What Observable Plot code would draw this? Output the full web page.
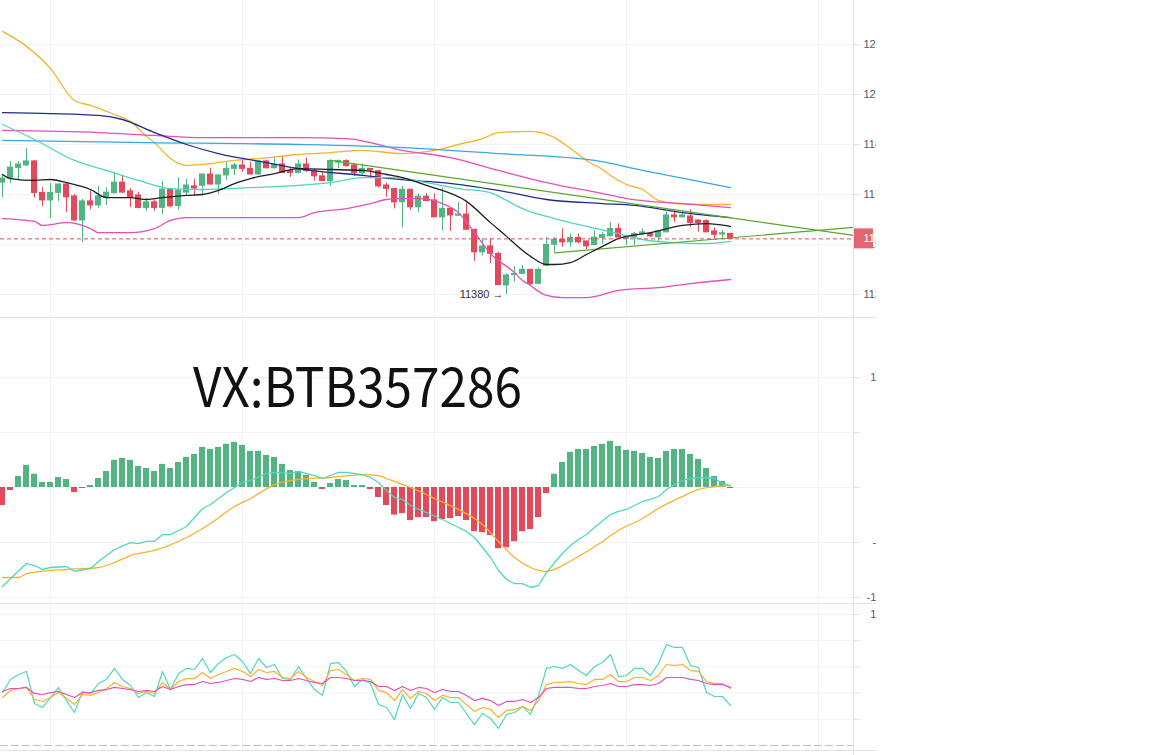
<!DOCTYPE html>
<html><head><meta charset="utf-8">
<script src="https://cdn.jsdelivr.net/npm/d3@7"></script>
<script src="https://cdn.jsdelivr.net/npm/@observablehq/plot@0.6"></script>
<style>
body{margin:0;background:#fff;}
#wrap{position:relative;width:1152px;height:755px;overflow:hidden;background:#fff;}
.panel{position:absolute;left:0;width:876px;overflow:hidden;}
.panel svg{overflow:hidden;display:block;}
.sep{position:absolute;left:0;width:876px;height:1px;background:#e0e3eb;}
#vline{position:absolute;left:853px;top:0;width:1px;height:755px;background:#e0e3eb;}
#wm{position:absolute;left:0;top:0;pointer-events:none;}
</style></head><body>
<div id="wrap">
  <div id="p1" class="panel" style="top:0;height:317px"></div>
  <div id="p2" class="panel" style="top:318px;height:285px"></div>
  <div id="p3" class="panel" style="top:604px;height:146px"></div>
  <div class="sep" style="top:317px"></div>
  <div class="sep" style="top:603px"></div>
  <div class="sep" style="top:750px"></div>
  <div id="vline"></div>
  <svg id="wm" width="1152" height="755"><text x="193" y="407" font-family="'Noto Sans CJK SC', 'Noto Sans', sans-serif" font-size="54" textLength="329" lengthAdjust="spacingAndGlyphs" fill="#111">VX:BTB357286</text></svg>
</div>
<script>
// ---------- data ----------
const candleOpen = [11738,11751,11785,11793,11806,11705,11681,11705,11732,11694,
11617,11678,11665,11691,11704,11738,11710,11697,11657,11675,
11657,11716,11663,11706,11726,11728,11764,11732,11761,11782,
11793,11782,11764,11806,11784,11796,11775,11769,11796,11775,
11758,11743,11802,11807,11793,11768,11782,11775,11729,11718,
11675,11715,11659,11693,11681,11627,11654,11632,11636,11587,
11515,11534,11510,11409,11442,11446,11459,11414,11472,11539,
11555,11547,11561,11550,11538,11561,11567,11590,11558,11563,
11574,11574,11563,11579,11633,11627,11630,11617,11615,11582,
11572,11574];
const candleClose = [11751,11786,11796,11806,11705,11681,11705,11732,11691,11617,
11678,11665,11694,11706,11738,11706,11689,11657,11675,11657,
11716,11662,11713,11729,11719,11764,11732,11761,11782,11793,
11782,11764,11806,11784,11796,11769,11769,11796,11775,11758,
11743,11807,11807,11791,11768,11782,11777,11726,11718,11675,
11715,11659,11693,11679,11627,11654,11633,11636,11587,11515,
11534,11510,11410,11441,11446,11459,11414,11459,11539,11555,
11547,11561,11547,11534,11562,11570,11590,11562,11563,11574,
11579,11566,11582,11633,11627,11633,11609,11609,11579,11571,
11576,11558];
const candleHigh = [11764,11806,11806,11847,11809,11722,11735,11734,11734,11700,
11684,11711,11726,11722,11771,11761,11719,11707,11687,11681,
11742,11719,11754,11749,11749,11765,11784,11762,11806,11800,
11815,11803,11807,11809,11819,11819,11783,11811,11817,11782,
11770,11811,11811,11811,11798,11798,11783,11776,11736,11719,
11726,11716,11702,11703,11702,11721,11655,11674,11672,11588,
11558,11558,11515,11446,11470,11473,11460,11465,11563,11563,
11590,11574,11574,11551,11583,11578,11611,11606,11569,11579,
11590,11578,11585,11643,11649,11647,11651,11618,11619,11593,
11585,11575];
const candleLow = [11690,11735,11745,11790,11689,11662,11623,11678,11642,11614,
11546,11651,11655,11665,11703,11703,11658,11654,11646,11646,
11636,11657,11649,11694,11694,11694,11730,11700,11745,11761,
11771,11763,11761,11782,11782,11768,11755,11766,11771,11743,
11742,11726,11783,11787,11758,11758,11751,11721,11691,11654,
11593,11649,11643,11678,11626,11583,11582,11631,11586,11486,
11503,11479,11409,11380,11419,11444,11407,11413,11471,11515,
11531,11531,11542,11524,11537,11540,11563,11561,11537,11537,
11569,11563,11547,11578,11611,11625,11595,11579,11577,11558,
11558,11557];

// main-panel indicator lines: [candle index, price]
const bollUpper = [[0,12222],[3,12174],[6,12103],[9,12001],[11,11985],[14,11956],[16,11934],[18,11886],[19,11866],[21,11815],[23,11793],[25,11796],[29,11809],[32,11815],[37,11828],[41,11834],[45,11841],[50,11831],[54,11841],[57,11860],[60,11879],[62,11898],[66,11902],[69,11882],[71,11847],[73,11809],[75,11780],[76,11761],[78,11732],[80,11716],[82,11681],[84,11671],[91,11668]];
const maPink = [[0,11905],[12,11898],[19,11889],[25,11882],[37,11882],[43,11879],[50,11841],[56,11818],[62,11777],[68,11738],[75,11703],[78,11687],[85,11671],[91,11658]];
const maBlue = [[0,11873],[18,11866],[37,11860],[50,11850],[62,11831],[74,11809],[80,11777],[91,11722]];
const maNavy = [[0,11962],[6,11959],[12,11953],[15,11940],[19,11898],[23,11860],[27,11831],[33,11802],[37,11783],[45,11761],[51,11745],[55,11738],[62,11713],[68,11684],[75,11671],[79,11665],[85,11642],[91,11626]];
const maTeal = [[0,11924],[4,11876],[9,11809],[13,11777],[17,11745],[21,11719],[25,11716],[31,11722],[37,11729],[41,11738],[45,11754],[49,11754],[53,11738],[57,11719],[61,11706],[63,11681],[65,11655],[69,11623],[73,11598],[77,11575],[80,11556],[84,11546],[88,11543],[91,11550]];
const maBlack = [[0,11764],[1,11751],[4,11745],[6,11748],[8,11738],[11,11716],[13,11690],[16,11690],[18,11684],[20,11690],[23,11697],[25,11700],[27,11713],[29,11735],[31,11751],[34,11767],[37,11783],[41,11780],[45,11777],[48,11764],[50,11754],[53,11729],[58,11678],[61,11610],[63,11566],[64,11543],[66,11502],[68,11476],[69,11476],[71,11482],[73,11508],[75,11534],[77,11559],[81,11578],[85,11601],[88,11607],[91,11598]];
const bollLower = [[0,11623],[4,11614],[5,11601],[8,11610],[11,11591],[12,11578],[16,11578],[19,11591],[21,11617],[23,11626],[29,11626],[37,11626],[39,11642],[43,11655],[46,11671],[48,11684],[49,11687],[52,11687],[55,11671],[57,11642],[59,11578],[61,11511],[64,11450],[65,11425],[66,11409],[67,11390],[68,11377],[70,11370],[73,11370],[77,11393],[82,11402],[86,11415],[91,11428]];
const trendUpper = [[41,11809],[106.375,11569]];
const trendLower = [[69,11513],[106.375,11595]];

// MACD
const macdHist = [-16.4,-2.7,10.0,20.1,12.1,4.6,4.6,9.1,7.3,-4.6,
-0.9,1.8,8.2,14.6,24.7,26.5,24.7,19.2,17.3,14.6,
21.0,17.3,22.8,27.4,30.1,36.5,34.7,36.5,39.3,41.1,
38.3,32.9,32.9,29.2,27.4,21.0,15.5,14.6,11.0,4.6,
-1.8,3.7,7.3,6.4,1.8,1.8,-1.8,-9.1,-16.4,-25.1,
-23.7,-30.1,-27.4,-27.4,-31.0,-29.2,-28.3,-26.5,-30.1,-40.2,
-41.1,-43.8,-55.7,-54.8,-49.3,-40.2,-38.3,-27.4,-5.5,12.1,
22.8,32.0,34.7,34.7,37.4,39.3,42.0,37.4,33.8,32.9,
31.0,27.4,26.5,32.9,34.7,34.7,30.1,25.6,17.3,10.0,
5.5,-0.9];
const macdDif = [[0,-90.1],[2,-76],[3,-69.2],[4,-71.0],[5,-74.6],[6,-72.8],[8,-71.9],[9,-76.4],[11,-73.7],[12,-67.3],[14,-56.4],[16,-50.1],[17,-51.0],[18,-49.1],[19,-49.1],[20,-42.8],[21,-42.8],[23,-35.5],[25,-19.1],[26,-15.5],[28,-4.6],[30,4.6],[31,6.4],[33,12.7],[34,13.7],[36,12.7],[37,14.6],[39,10.9],[40,8.2],[42,13.7],[43,13.7],[45,11.8],[46,9.1],[47,4.6],[48,-2.7],[49,-9.1],[50,-10.9],[51,-16.4],[53,-22.8],[55,-29.1],[57,-36.4],[58,-40.0],[59,-45.5],[60,-54.6],[61,-63.7],[62,-75.5],[63,-83.7],[64,-87.4],[65,-87.4],[66,-91.0],[67,-89.2],[68,-77.4],[69,-68.3],[70,-60.1],[71,-52.8],[72,-47.3],[73,-42.8],[74,-36.4],[76,-24.6],[77,-21.8],[78,-20.0],[79,-16.4],[80,-12.7],[81,-10.9],[82,-8.2],[83,-1.8],[84,2.7],[85,6.4],[86,8.2],[87,9.1],[88,9.1],[89,8.2],[90,3.6],[91,1.8]];
const macdDea = [[0,-81.9],[2,-81.9],[3,-78.3],[6,-75.5],[8,-74.6],[12,-72.8],[14,-68.3],[16,-61.9],[19,-57.3],[23,-45.5],[26,-32.8],[29,-17.3],[31,-10.0],[34,2.7],[37,7.3],[41,9.1],[45,11.8],[47,10.9],[48,8.2],[49,5.5],[51,0],[53,-6.4],[54,-10.0],[57,-20.0],[60,-33.7],[62,-49.1],[64,-63.7],[66,-72.8],[67,-75.5],[68,-76.4],[69,-74.6],[70,-71.0],[72,-62.8],[75,-49.1],[77,-39.1],[80,-28.2],[82,-19.1],[85,-8.2],[87,-1.8],[89,0.9],[91,1.8]];

// RSI
const rsi6 = [40.4,50.4,54.2,56.5,32.0,29.0,36.6,44.3,34.3,25.2,
41.2,39.7,47.3,50.4,58.8,50.4,45.8,36.6,40.4,37.4,
56.5,42.7,54.9,58.8,58.0,66.4,55.7,62.6,67.1,69.4,
64.1,54.9,66.4,59.5,61.8,51.1,50.4,60.3,51.1,42.7,
38.2,62.6,63.3,56.5,45.0,50.4,47.3,31.3,29.0,19.8,
38.9,28.2,39.7,36.6,27.5,36.6,32.8,32.8,24.4,16.0,
24.4,20.6,13.0,23.7,25.2,29.8,23.7,38.2,58.8,60.3,
58.8,61.8,57.2,53.4,60.3,63.3,69.4,52.6,53.4,58.8,
58.8,53.4,62.6,77.1,74.8,74.8,61.0,59.5,40.4,37.4,
37.4,30.5];
const rsi12 = [36.6,42.0,43.5,44.3,35.1,33.6,36.6,40.4,35.9,31.3,
38.9,38.2,40.4,43.5,48.1,45.0,43.5,39.7,41.2,39.7,
48.1,42.7,48.8,51.1,51.1,55.7,51.1,54.2,56.5,58.8,
56.5,52.6,58.0,55.7,56.5,51.9,51.1,56.5,51.9,48.8,
45.8,57.2,58.0,54.2,49.6,51.1,50.4,42.0,40.4,34.3,
42.7,35.9,41.2,39.7,34.3,38.2,36.6,36.6,31.3,25.9,
29.0,27.5,21.4,26.7,27.5,29.8,26.7,34.3,46.5,48.1,
48.1,48.8,47.3,46.5,50.4,50.4,54.2,48.8,48.8,51.9,
51.9,49.6,53.4,61.8,61.0,61.8,57.2,56.5,48.8,47.3,
47.3,43.5];
const rsi24 = [41.2,43.5,43.5,44.3,39.7,38.9,40.4,41.2,38.9,36.6,
40.4,40.4,42.0,42.7,44.3,43.5,42.7,41.2,42.0,41.2,
45.0,42.7,45.0,46.5,46.5,48.8,47.3,48.1,49.6,51.1,
50.4,48.8,51.9,50.4,51.1,49.6,49.6,51.1,49.6,48.1,
47.3,51.9,51.9,51.1,49.6,49.6,48.8,45.0,45.0,42.0,
45.0,42.0,44.3,43.5,40.4,42.7,41.2,41.2,38.2,34.3,
35.9,34.3,30.5,33.6,33.6,35.1,32.8,36.6,43.5,44.3,
44.3,44.3,43.5,43.5,45.0,45.8,47.3,45.0,45.0,46.5,
46.5,45.8,47.3,51.9,51.9,51.9,50.4,49.6,47.3,46.5,
46.5,44.3];

// axes
const priceTicks = [11380,11540,11700,11860,12020,12180];
const macdTicks = [100,50,0,-50,-100];
const rsiTicks = [100,80,60,40,20];
const gridIdx = [6,30,54,78,102];

// ---------- styles ----------
const UP = "#52b483", DOWN = "#e24a5b", BOX = "#e36473";
const GRID = "#f0f3f8", TICK = "#e0e3eb", LABEL = "#555a66";
const xDom = [-0.25, 106.375];
const common = {width: 876, marginLeft: 0, marginRight: 23, marginTop: 0, marginBottom: 0,
  style: {background: "transparent", fontFamily: "'Liberation Sans', Arial, sans-serif", fontSize: "11px", overflow: "hidden"}};

const candles = candleOpen.map((o, i) => ({i, o, c: candleClose[i], h: candleHigh[i], l: candleLow[i]}));
const candleColor = d => d.c >= d.o ? UP : DOWN;
const lastClose = candleClose[candleClose.length - 1];
const minCandle = candles[d3.minIndex(candleLow)];
const pline = (data, stroke, w = 1.3, curve = "monotone-x") =>
  Plot.line(data, {x: d => d[0], y: d => d[1], stroke, strokeWidth: w, curve});
const rightAxis = (ticks, pad, anchor) => Plot.axisY(ticks, {anchor: "right", label: null, tickSize: 6, tickPadding: pad, textAnchor: anchor, stroke: TICK, fill: LABEL, tickFormat: d => String(d)});

// ---------- main panel ----------
const priceDom = [11306.4, 12320.8];
const ppx = (priceDom[1] - priceDom[0]) / 317;
const p1 = Plot.plot({...common, height: 317,
  x: {domain: xDom, axis: null, label: null}, y: {domain: priceDom, axis: null, label: null}, color: {type: "identity"},
  marks: [
    Plot.gridX(gridIdx, {stroke: GRID, strokeOpacity: 1}),
    Plot.gridY(priceTicks, {stroke: GRID, strokeOpacity: 1}),
    rightAxis(priceTicks, 4, "start"),
    Plot.ruleX(candles, {x: "i", y1: "l", y2: "h", stroke: candleColor, strokeWidth: 1}),
    Plot.rect(candles, {x1: d => d.i - 0.375, x2: d => d.i + 0.375, y1: "o", y2: "c", fill: candleColor, insetTop: -0.5, insetBottom: -0.5}),
    pline(bollUpper, "#f7b22b"),
    pline(maPink, "#e54fb7"),
    pline(maBlue, "#3aa7e2"),
    pline(maNavy, "#1f2b8e"),
    pline(maTeal, "#4fd7bd"),
    pline(bollLower, "#e54fb7"),
    pline(trendUpper, "#55a82f", 1.2, "linear"),
    pline(trendLower, "#55a82f", 1.2, "linear"),
    pline(maBlack, "#1e1e1e", 1.3),
    Plot.ruleY([lastClose], {stroke: DOWN, strokeDasharray: "4,3"}),
    Plot.rect([lastClose], {x1: xDom[1], x2: xDom[1] + 2.5, y1: d => d - 10 * ppx, y2: d => d + 10 * ppx, fill: BOX}),
    Plot.text([lastClose], {x: xDom[1], y: d => d, text: d => String(d), dx: 10, textAnchor: "start", fill: "white", fontSize: 11}),
    Plot.text([minCandle], {x: "i", y: "l", text: d => `${d.l} →`, textAnchor: "end", dx: -3, fill: "#333", fontSize: 11})
  ]});
document.getElementById("p1").appendChild(p1);

// ---------- MACD panel ----------
const macdDom = [-105.56, 153.79];
const bars = macdHist.map((v, i) => ({i, v}));
const p2 = Plot.plot({...common, height: 285,
  x: {domain: xDom, axis: null, label: null}, y: {domain: macdDom, axis: null, label: null}, color: {type: "identity"},
  marks: [
    Plot.gridX(gridIdx, {stroke: GRID, strokeOpacity: 1}),
    Plot.gridY(macdTicks, {stroke: GRID, strokeOpacity: 1}),
    rightAxis(macdTicks, 29, "end"),
    Plot.rect(bars, {x1: d => d.i - 0.375, x2: d => d.i + 0.375, y1: 0, y2: d => d.v, fill: d => d.v >= 0 ? UP : DOWN}),
    pline(macdDea, "#f7b22b", 1.3),
    pline(macdDif, "#4fd7bd", 1.3, "linear")
  ]});
document.getElementById("p2").appendChild(p2);

// ---------- RSI panel ----------
const rsiDom = [-3.815, 107.58];
const toPts = arr => arr.map((v, i) => [i, v]);
const p3 = Plot.plot({...common, height: 146,
  x: {domain: xDom, axis: null, label: null}, y: {domain: rsiDom, axis: null, label: null},
  marks: [
    Plot.gridX(gridIdx, {stroke: GRID, strokeOpacity: 1}),
    Plot.gridY(rsiTicks, {stroke: GRID, strokeOpacity: 1}),
    rightAxis(rsiTicks, 29, "end"),
    Plot.ruleY([0], {stroke: "#c6bcd6", strokeDasharray: "8,3"}),
    pline(toPts(rsi6), "#4fd7bd", 1.2, "linear"),
    pline(toPts(rsi12), "#f7b22b", 1.2, "linear"),
    pline(toPts(rsi24), "#e54fb7", 1.2, "linear")
  ]});
document.getElementById("p3").appendChild(p3);
</script>
</body></html>
